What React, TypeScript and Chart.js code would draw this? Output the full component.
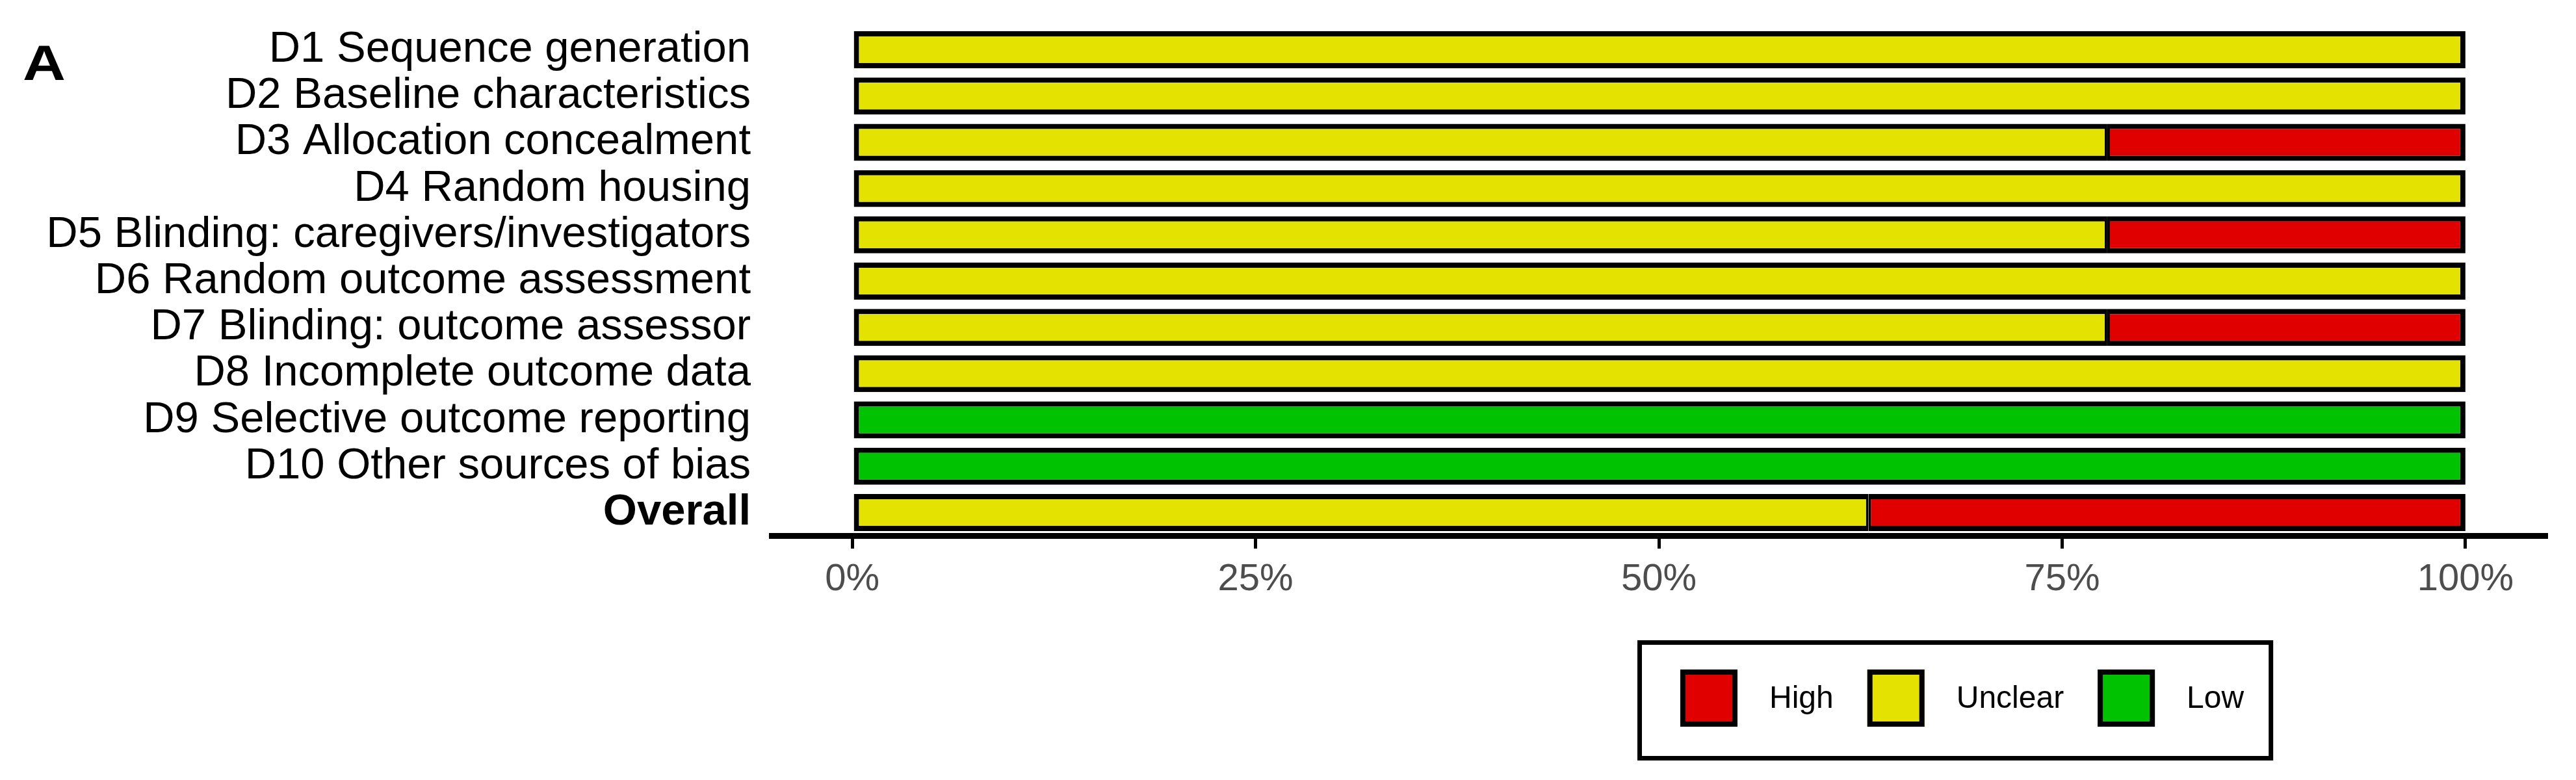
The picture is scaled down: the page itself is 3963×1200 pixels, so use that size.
import React, { useEffect, useRef } from "react";
import { Chart, registerables } from "chart.js";

Chart.register(...registerables);

// ---- Data ----
const categories = [
  "D1 Sequence generation",
  "D2 Baseline characteristics",
  "D3 Allocation concealment",
  "D4 Random housing",
  "D5 Blinding: caregivers/investigators",
  "D6 Random outcome assessment",
  "D7 Blinding: outcome assessor",
  "D8 Incomplete outcome data",
  "D9 Selective outcome reporting",
  "D10 Other sources of bias",
  "Overall",
];
const lowValues = [0, 0, 0, 0, 0, 0, 0, 0, 100, 100, 0];
const unclearValues = [100, 100, 77.8, 100, 77.8, 100, 77.8, 100, 0, 0, 63];
const highValues = [0, 0, 22.2, 0, 22.2, 0, 22.2, 0, 0, 0, 37];
const tickValues = [0, 25, 50, 75, 100];
const legendLabels = ["High", "Unclear", "Low"];
const panelLabel = "A";

const FONT = "'Liberation Sans', Arial, Helvetica, sans-serif";
const COLORS: Record<string, string> = {
  High: "#E00000",
  Unclear: "#E4E200",
  Low: "#00C200",
};

const W = 3947;
const H = 1184;

export default function App() {
  const ref = useRef<HTMLCanvasElement>(null);

  useEffect(() => {
    const canvas = ref.current;
    if (!canvas) return;

    const series = [
      { label: "Low", values: lowValues },
      { label: "Unclear", values: unclearValues },
      { label: "High", values: highValues },
    ];
    const BW = 8;
    const borderFor = (ctx: any) => {
      const i = ctx.dataIndex;
      const d = ctx.datasetIndex;
      const nz = series
        .map((s, k) => ((s.values[i] || 0) > 0 ? k : -1))
        .filter((k) => k >= 0);
      const first = nz[0];
      const last = nz[nz.length - 1];
      return {
        top: BW,
        bottom: BW,
        left: d === first ? BW : BW / 2,
        right: d === last ? BW : BW / 2,
      };
    };

    const extrasPlugin = {
      id: "robExtras",
      afterDraw(chart: any) {
        const ctx = chart.ctx as CanvasRenderingContext2D;
        ctx.save();
        // Panel label
        ctx.fillStyle = "#000";
        ctx.font = `bold 76px ${FONT}`;
        ctx.textAlign = "left";
        ctx.textBaseline = "alphabetic";
        ctx.save();
        ctx.translate(27, 115);
        ctx.scale(1.2, 1);
        ctx.fillText(panelLabel, 0, 0);
        ctx.restore();

        // Legend
        const boxLeft = 2511;
        const boxTop = 977;
        const boxBottom = 1162;
        const sw = 88;
        const swTop = 1022;
        const gapText = 49;
        const gapItem = 52;
        const padLeft = 66;
        const padRight = 45;
        ctx.font = `48px ${FONT}`;
        ctx.textBaseline = "middle";
        let x = boxLeft + padLeft;
        let lastEnd = x;
        legendLabels.forEach((lab, idx) => {
          ctx.fillStyle = COLORS[lab];
          ctx.fillRect(x, swTop, sw, sw);
          ctx.strokeStyle = "#000";
          ctx.lineWidth = 8;
          ctx.strokeRect(x + 4, swTop + 4, sw - 8, sw - 8);
          ctx.fillStyle = "#000";
          const tx = x + sw + gapText;
          ctx.fillText(lab, tx, swTop + sw / 2 + 2);
          const tw = ctx.measureText(lab).width;
          lastEnd = tx + tw;
          x = lastEnd + (idx < legendLabels.length - 1 ? gapItem : 0);
        });
        const boxRight = lastEnd + padRight;
        ctx.strokeStyle = "#000";
        ctx.lineWidth = 7;
        ctx.strokeRect(boxLeft + 3.5, boxTop + 3.5, boxRight - boxLeft - 7, boxBottom - boxTop - 7);
        ctx.restore();
      },
    };

    const chart = new Chart(canvas, {
      type: "bar",
      data: {
        labels: categories,
        datasets: series.map((s) => ({
          label: s.label,
          data: s.values.map((v) => (v > 0 ? v : null)),
          backgroundColor: COLORS[s.label],
          borderColor: "#000",
          borderWidth: borderFor,
          borderSkipped: false,
          barPercentage: 0.8,
          categoryPercentage: 1,
        })),
      },
      options: {
        indexAxis: "y",
        animation: false,
        responsive: false,
        devicePixelRatio: 1,
        layout: { padding: { left: 0, right: 38, top: 33, bottom: 248 } },
        plugins: {
          legend: { display: false },
          tooltip: { enabled: false },
        },
        scales: {
          x: {
            type: "linear",
            stacked: true,
            min: -5,
            max: 105,
            afterBuildTicks: (scale: any) => {
              scale.ticks = tickValues.map((v) => ({ value: v }));
            },
            afterFit: (scale: any) => {
              scale.height = 120;
              scale.paddingLeft = 0;
              scale.paddingRight = 0;
            },
            grid: {
              display: true,
              drawOnChartArea: false,
              drawTicks: true,
              tickLength: 20,
              color: "#000",
              lineWidth: 5,
            },
            border: { display: true, color: "#000", width: 9 },
            ticks: {
              padding: 13,
              color: "#4D4D4D",
              font: { family: FONT, size: 58 },
              maxRotation: 0,
              autoSkip: false,
              callback: (v: any) => `${v}%`,
            },
          },
          y: {
            type: "category",
            stacked: true,
            afterFit: (scale: any) => {
              scale.width = 1179;
              scale.paddingTop = 0;
              scale.paddingBottom = 0;
            },
            grid: { display: false, drawTicks: false },
            border: { display: false },
            ticks: {
              padding: 32,
              color: "#000",
              autoSkip: false,
              font: (ctx: any) => ({
                family: FONT,
                size: 67,
                weight: ctx.index === categories.length - 1 ? "bold" : "normal",
              }),
            },
          },
        },
      },
      plugins: [extrasPlugin],
    } as any);

    return () => chart.destroy();
  }, []);

  return (
    <div style={{ width: W, height: H }}>
      <canvas ref={ref} width={W} height={H} style={{ display: "block", width: W, height: H }} />
    </div>
  );
}
